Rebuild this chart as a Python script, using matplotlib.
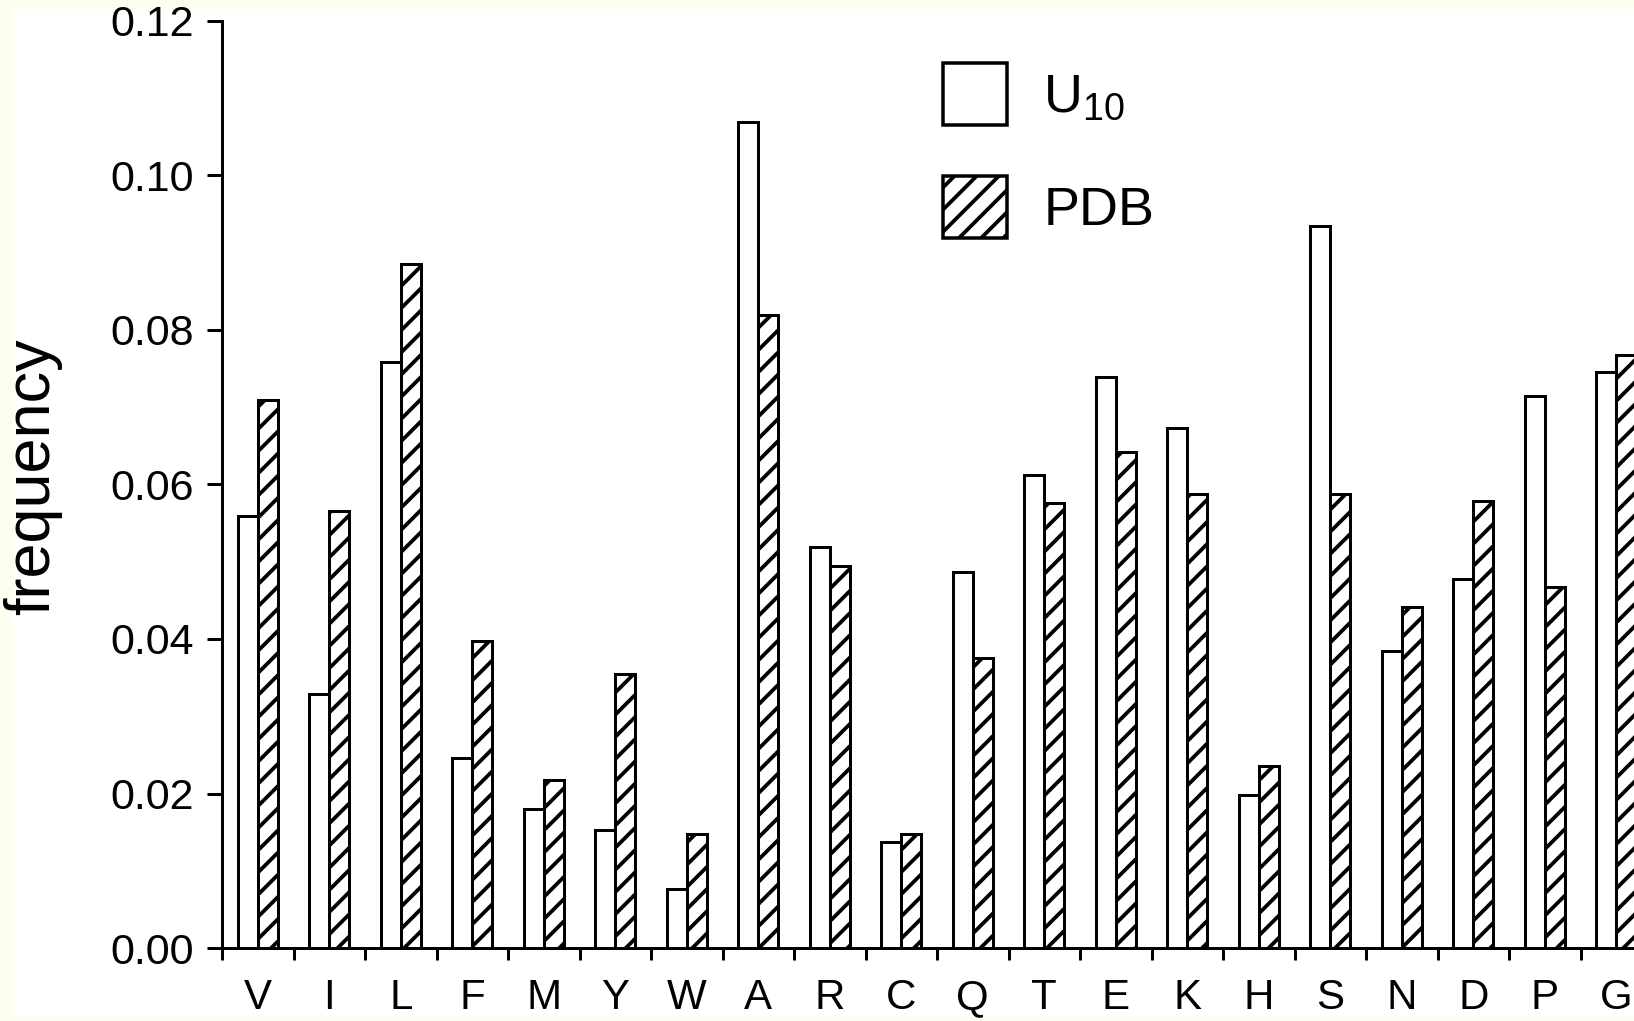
import matplotlib
matplotlib.use('Agg')
import matplotlib.pyplot as plt
from matplotlib import rcParams
from matplotlib.patches import Patch, Rectangle
import numpy as np


RESIDUES = ['V', 'I', 'L', 'F', 'M', 'Y', 'W', 'A', 'R', 'C',
            'Q', 'T', 'E', 'K', 'H', 'S', 'N', 'D', 'P', 'G']
U10_FREQ = [0.0559, 0.0329, 0.0759, 0.0246, 0.0180, 0.0153, 0.0076, 0.1069, 0.0519, 0.0137,
            0.0487, 0.0612, 0.0739, 0.0673, 0.0198, 0.0934, 0.0384, 0.0478, 0.0714, 0.0746]
PDB_FREQ = [0.0710, 0.0566, 0.0885, 0.0398, 0.0217, 0.0355, 0.0148, 0.0820, 0.0495, 0.0148,
            0.0376, 0.0576, 0.0642, 0.0588, 0.0235, 0.0588, 0.0442, 0.0578, 0.0467, 0.0768]
Y_TICKS = [0.00, 0.02, 0.04, 0.06, 0.08, 0.10, 0.12]
LEGEND_LABELS = ['U$_{10}$', 'PDB']

W_PX, H_PX = 1634, 1021
DPI = 133            # chosen so the '//' hatch pitch matches the scan
PT = 72 / DPI        # pixels -> points
BAR_WIDTH = 0.28

rcParams['font.family'] = ['Liberation Sans', 'DejaVu Sans']
rcParams['mathtext.fontset'] = 'custom'
rcParams['mathtext.rm'] = 'Liberation Sans'
rcParams['mathtext.it'] = 'Liberation Sans'
rcParams['hatch.linewidth'] = 3.8 * PT

fig = plt.figure(figsize=(W_PX / DPI, H_PX / DPI), dpi=DPI, facecolor='#fdfdf0')
# white page inside the cream scan border
fig.patches.append(Rectangle((13 / W_PX, 4 / H_PX), 1, 1 - 13 / H_PX, transform=fig.transFigure,
                             facecolor='white', edgecolor='none', zorder=-1))

# axes run past the right edge, so the last bar is cut like in the scan
ax = fig.add_axes([222 / W_PX, 73 / H_PX, 1430 / W_PX, 927 / H_PX])
ax.set_facecolor('white')

x = np.arange(len(RESIDUES))
ax.bar(x - BAR_WIDTH / 2, U10_FREQ, BAR_WIDTH, color='white', edgecolor='black', linewidth=3 * PT)
ax.bar(x + BAR_WIDTH / 2, PDB_FREQ, BAR_WIDTH, color='white', edgecolor='black', linewidth=3 * PT,
       hatch='//')

ax.set_xlim(-0.5, len(RESIDUES) - 0.5)
ax.set_ylim(0, 0.12)

ax.set_xticks(x, labels=RESIDUES)
ax.set_xticks(np.arange(-0.5, len(RESIDUES), 1), minor=True)
ax.tick_params(axis='x', which='major', length=0, pad=30 * PT, labelsize=42 * PT)
ax.tick_params(axis='x', which='minor', length=12 * PT, width=3 * PT, direction='out')

ax.set_yticks(Y_TICKS, labels=['%.2f' % v for v in Y_TICKS])
ax.tick_params(axis='y', length=15 * PT, width=3 * PT, pad=13 * PT, labelsize=43 * PT,
               direction='out')

for s in ('top', 'right'):
    ax.spines[s].set_visible(False)
for s in ('left', 'bottom'):
    ax.spines[s].set_linewidth(3 * PT)

ax.set_ylabel('frequency', fontsize=63 * PT)
ax.yaxis.set_label_coords(-0.112, 0.508)

handles = [
    Patch(facecolor='white', edgecolor='black', linewidth=3.5 * PT),
    Patch(facecolor='white', edgecolor='black', linewidth=3.5 * PT, hatch='//'),
]
ax.legend(handles, LEGEND_LABELS, loc='upper left',
          bbox_to_anchor=(943 / W_PX, 1 - 63 / H_PX), bbox_transform=fig.transFigure,
          frameon=False, fontsize=54 * PT, handlelength=1.185, handleheight=1.389,
          handletextpad=0.67, labelspacing=0.94, borderpad=0, borderaxespad=0)

fig.savefig('out.png', dpi=DPI, facecolor=fig.get_facecolor())
